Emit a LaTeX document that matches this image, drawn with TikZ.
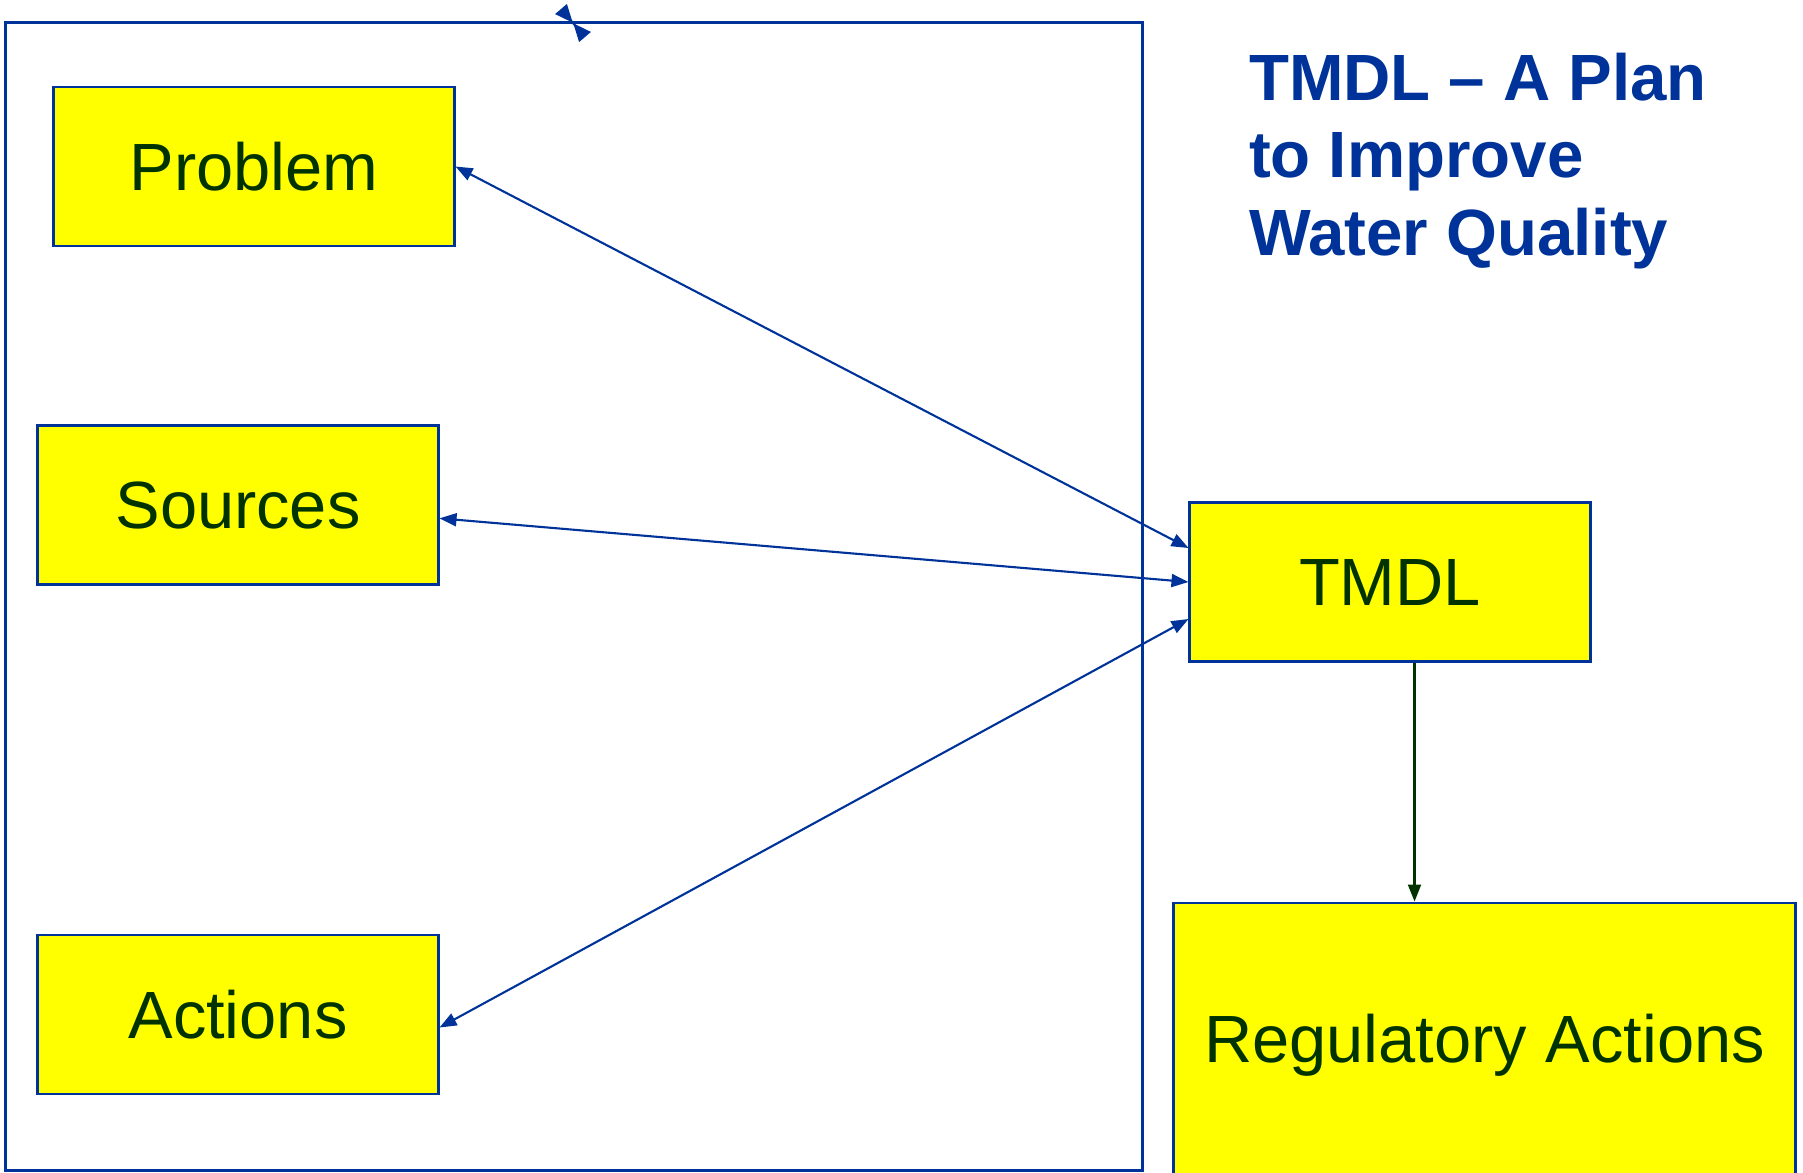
\documentclass[tikz,border=0pt]{standalone}
\usepackage{fontspec}
\setmainfont{Liberation Sans}
\usetikzlibrary{arrows.meta,positioning}

\definecolor{frameblue}{HTML}{003399}
\definecolor{textgreen}{HTML}{003300}
\definecolor{boxyellow}{HTML}{FFFF00}

\begin{document}
\begin{tikzpicture}[
    x = 0.01cm, y = -0.01cm, % one unit = one pixel
    > = {Triangle[length=0.17cm,width=0.13cm]}, % arrow head style
    line width = 0.6pt, % line style
    ]

    \tikzset{
    stepbox/.style = {
        draw = frameblue,
        line width = 0.8pt,
        fill = boxyellow,
        text = textgreen,
        inner sep = 0pt,
        minimum width = 4cm,
        minimum height = 1.59cm,
        font = \fontsize{19}{23}\selectfont
        },
    link/.style = {<->, frameblue}
    }

    \useasboundingbox (0,0) rectangle (1803,1172);

    % outer frame
    \node[draw=frameblue, line width=0.7pt, minimum width=11.36cm,
      minimum height=11.47cm, inner sep=0pt] (frame) at (574,596.5) {};
    \coordinate (mk1) at (561,9);
    \coordinate (mk2) at (585,37);
    \draw[frameblue, {Triangle[reversed,length=0.18cm,width=0.15cm]}-{Triangle[reversed,length=0.18cm,width=0.15cm]}] (mk1) -- (mk2);

    % boxes
    \node[stepbox] (prob) at (254,166.5) {Problem};
    \node[stepbox] (src) at (238,505.3) {Sources};
    \node[stepbox] (act) at (238,1014.5) {Actions};
    \node[stepbox] (tmdl) at (1390,582) {TMDL};
    \node[stepbox, minimum width=6.21cm, minimum height=2.84cm] (reg) at (1484.5,1045) {Regulatory Actions};

    % title
    \node[anchor=north west, inner sep=0pt, align=left, text=frameblue,
      font=\bfseries\fontsize{18.6}{22}\selectfont] (title) at (1248,52)
      {TMDL -- A Plan\\to Improve\\Water Quality};

    \path[link] (prob.east) edge ([yshift=0.34cm]tmdl.west);
    \path[link] ([yshift=-0.13cm]src.east) edge (tmdl.west);
    \path[link] ([yshift=-0.13cm]act.east) edge ([yshift=-0.37cm]tmdl.west);
    \draw[->, textgreen] ([xshift=0.245cm]tmdl.south) -- ([xshift=0.245cm]tmdl.south |- reg.north);
\end{tikzpicture}
\end{document}
